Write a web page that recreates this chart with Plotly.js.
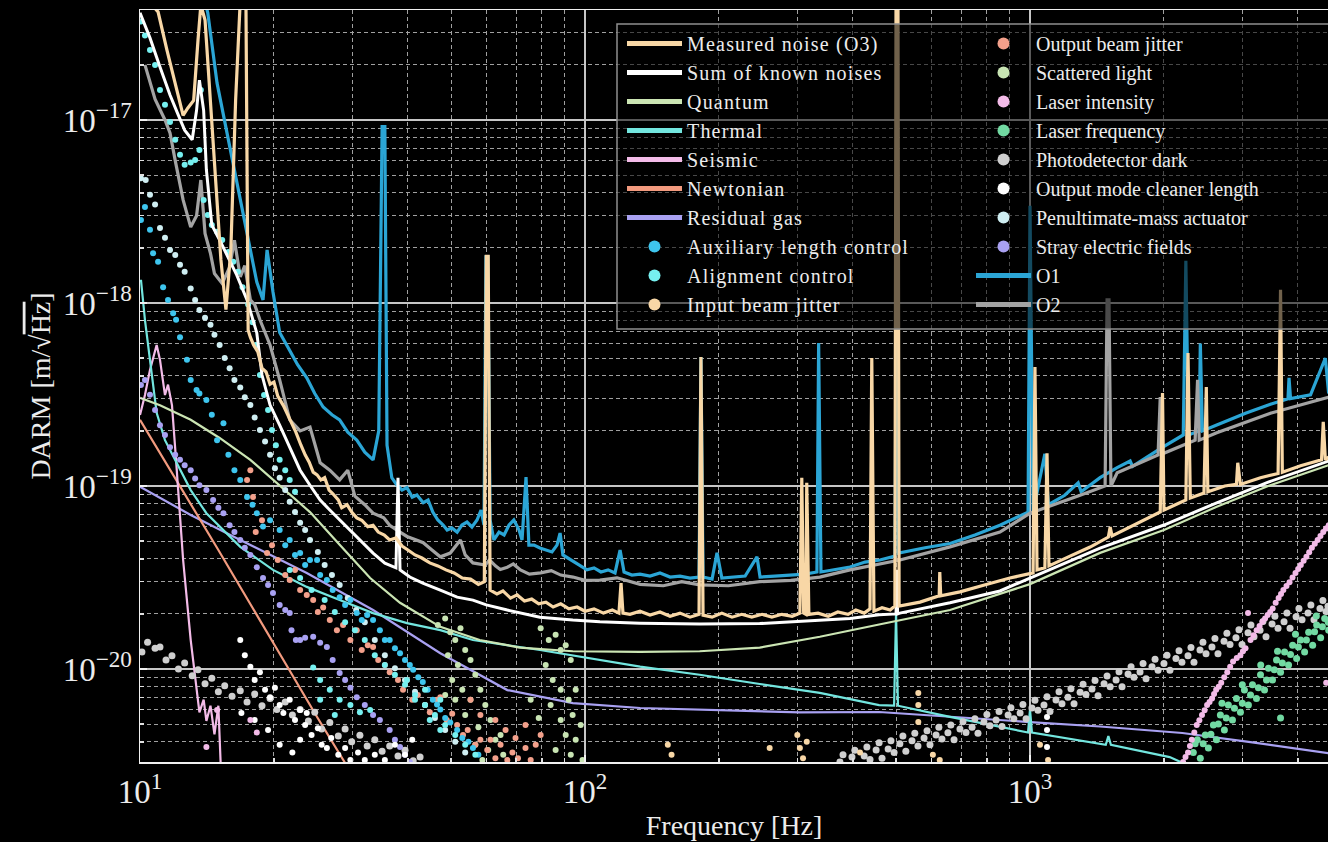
<!DOCTYPE html>
<html>
<head>
<meta charset="utf-8">
<script src="https://cdn.plot.ly/plotly-3.0.1.min.js"></script>
<style>
  html, body { margin: 0; padding: 0; background: #000; }
  #chart { width: 1328px; height: 842px; }
  .legendtext { letter-spacing: 1.2px; }
</style>
</head>
<body>
<div id="chart"></div>
<script>
// ---------------- data (frequency in Hz, amplitude in m/sqrt(Hz)) ----------------
const o3Freq = [10.42,10.98,11.5,12.0,12.5,12.8,13.2,13.5,13.7,14.0,14.4,14.8,15.2,15.6,16.0,16.4,16.8,17.3,17.5,17.7,18.0,18.4,18.8,19.2,19.6,20.0,20.4,21.0,21.4,22.0,22.4,23.0,23.5,24.0,24.5,25.0,25.5,26.0,26.6,27.1,27.9,28.4,29.2,29.9,30.7,31.5,32.5,33.4,34.3,35.4,36.4,37.6,38.8,40.0,41.5,43.0,44.8,46.7,48.7,50.8,53.0,55.3,57.6,59.4,60.0,60.6,
  61.2,63.4,65.4,68.0,70.4,73.1,75.9,78.7,81.7,84.8,88.2,92.0,96.0,100,104.8,110,115.2,119.2,120.5,121.7,126.2,132.9,140,147.4,155.3,163.5,172.2,180.4,182.2,184.2,193,203,214,225,237,250,263,277,292,304,307,310,313.5,315,318.5,334,352,370,390,406,424,437,441,446,465,485,497,500,505,508,
  566,625,627,630,696,790,901,1016,1026,1037,1080,1092,1103,1230,1365,1500,1514,1529,1769,1962,1985,2000,2240,2265,2292,2460,2490,2510,2740,2910,2930,2970,3296,3610,3656,3690,4056,4520,4560,4610,4690];
const o3Amp = [4.5e-17,3.9e-17,2.4e-17,1.55e-17,1.06e-17,1.16e-17,1.28e-17,2.73e-17,4.25e-17,3.52e-17,1.28e-17,4.7e-18,1.72e-18,9.2e-19,1.95e-18,1.28e-17,4.5e-17,4.5e-17,7.1e-19,6.5e-19,5.9e-19,5.4e-19,4.4e-19,4.2e-19,3.6e-19,3.7e-19,3.1e-19,2.75e-19,2.5e-19,2.15e-19,1.97e-19,1.67e-19,1.48e-19,1.35e-19,1.19e-19,1.15e-19,1.08e-19,1.11e-19,9.5e-20,9.1e-20,8.4e-20,7.6e-20,7.9e-20,7.2e-20,6.7e-20,6.5e-20,6.0e-20,6.1e-20,5.6e-20,5.4e-20,5.07e-20,5.2e-20,4.7e-20,4.47e-20,4.2e-20,4.04e-20,3.8e-20,3.66e-20,3.48e-20,3.35e-20,3.14e-20,3.1e-20,2.9e-20,3.0e-20,1.8e-18,1.8e-18,
  2.70e-20,2.57e-20,2.67e-20,2.44e-20,2.54e-20,2.35e-20,2.41e-20,2.27e-20,2.32e-20,2.18e-20,2.27e-20,2.13e-20,2.18e-20,2.07e-20,2.13e-20,2.02e-20,2.1e-20,2.02e-20,2.95e-20,2.02e-20,1.99e-20,2.07e-20,1.97e-20,2.05e-20,1.94e-20,2.02e-20,1.92e-20,1.99e-20,5.07e-19,1.97e-20,1.92e-20,2.02e-20,1.92e-20,1.99e-20,1.92e-20,1.99e-20,1.92e-20,1.99e-20,1.94e-20,2.02e-20,1.11e-19,2.02e-20,1.99e-20,1.04e-19,1.99e-20,2.02e-20,1.94e-20,2.05e-20,1.99e-20,2.1e-20,2.02e-20,2.13e-20,5.0e-19,2.07e-20,2.16e-20,2.1e-20,2.21e-20,5.1e-17,5.1e-17,2.21e-20,
  2.32e-20,2.51e-20,3.39e-20,2.51e-20,2.64e-20,2.88e-20,3.14e-20,3.35e-20,4.47e-19,3.48e-20,3.57e-20,1.51e-19,3.66e-20,4.14e-20,4.64e-20,5.26e-20,5.97e-20,5.33e-20,6.38e-20,7.21e-20,3.22e-19,7.39e-20,8.38e-20,5.33e-19,8.6e-20,9.15e-20,3.47e-19,9.3e-20,1.0e-19,1.02e-19,1.34e-19,1.02e-19,1.11e-19,1.17e-19,1.18e-18,1.19e-19,1.29e-19,1.39e-19,2.24e-19,1.39e-19,1.44e-19];

const sumFreq = [10.0,10.53,11.09,11.68,12.2,12.6,13.1,13.4,13.6,13.9,14.1,14.5,15.1,15.8,16.5,17.4,18.3,18.8,19.6,20.6,21.7,22.9,24.1,25.4,26.7,28.1,29.7,31.2,33.4,35.5,37.6,38.0,38.4,40.4,43.2,47.3,51.6,56.0,60.0,66.9,79.2,93.9,108,133,181,247,337,394,458,500,502,504,510,661,856,1000,1437,2000,2620,3430,4690];
const sumAmp = [3.85e-17,2.81e-17,1.95e-17,1.37e-17,1.06e-17,8.8e-18,7.8e-18,1.13e-17,1.65e-17,1.13e-17,5.33e-18,2.67e-18,2.21e-18,1.76e-18,1.42e-18,1.04e-18,6.86e-19,4.04e-19,2.77e-19,2.15e-19,1.63e-19,1.22e-19,1.01e-19,8.38e-20,7.39e-20,6.52e-20,5.75e-20,5.07e-20,4.3e-20,3.79e-20,3.57e-20,1.11e-19,3.48e-20,3.18e-20,2.95e-20,2.7e-20,2.47e-20,2.38e-20,2.24e-20,2.1e-20,1.92e-20,1.85e-20,1.81e-20,1.78e-20,1.76e-20,1.77e-20,1.85e-20,1.89e-20,1.98e-20,2.0e-20,3.48e-20,2.0e-20,2.02e-20,2.3e-20,2.67e-20,3.14e-20,4.58e-20,6.12e-20,8.07e-20,1.05e-19,1.37e-19];

const quantumFreq = [10,11.09,13.0,15.1,17.7,20.6,24.1,28.1,32.9,38.4,47.3,58.0,71.3,93.9,133,181,247,337,394,458,661,1000,1437,2000,2620,3430,4690];
const quantumAmp = [3.03e-19,2.76e-19,2.30e-19,1.83e-19,1.39e-19,1.01e-19,7.2e-20,4.77e-20,3.14e-20,2.30e-20,1.70e-20,1.44e-20,1.31e-20,1.25e-20,1.24e-20,1.25e-20,1.31e-20,1.5e-20,1.63e-20,1.75e-20,2.1e-20,2.91e-20,4.31e-20,5.75e-20,7.67e-20,1.0e-19,1.30e-19];

const thermalFreq = [10.05,10.26,10.53,10.9,11.38,11.9,13.0,14.1,16.8,19.9,23.7,28.1,33.4,39.8,47.3,56.0,79.2,133,181,247,337,458,495,500,505,661,990,1000,1010,1480,1500,1520,2060,2400];
const thermalAmp = [1.34e-18,8.07e-19,4.89e-19,2.51e-19,1.78e-19,1.44e-19,9.5e-20,7.1e-20,4.65e-20,3.48e-20,2.81e-20,2.38e-20,2.02e-20,1.78e-20,1.63e-20,1.44e-20,1.27e-20,1.03e-20,9.3e-21,8.28e-21,7.4e-21,6.35e-21,6.3e-21,2.02e-20,6.3e-21,5.47e-21,4.5e-21,6.0e-21,4.5e-21,3.85e-21,4.3e-21,3.85e-21,3.3e-21,2.8e-21];

const seismicFreq = [10,10.26,10.53,10.9,11.09,11.38,11.56,11.8,12.05,12.5,13.0,13.4,13.6,13.9,14.1,14.4,14.7,15.0,15.2];
const seismicAmp = [2.44e-19,3.14e-19,4.31e-19,5.89e-19,4.89e-19,3.14e-19,3.58e-19,2.76e-19,1.39e-19,3.94e-20,1.44e-20,7.67e-21,5.8e-21,6.8e-21,5.2e-21,6.3e-21,4.4e-21,6.3e-21,2.8e-21];

const newtonianFreq = [10,12,15,20,25,30];
const newtonianAmp = [2.30e-19,1.11e-19,4.47e-20,1.37e-20,5.47e-21,2.64e-21];

const gasFreq = [10,13.0,16.8,23.7,33.4,47.3,66.9,93.9,133,201,304,458,661,1000,1437,2200,3100,4690];
const gasAmp = [9.9e-20,6.95e-20,5.07e-20,3.35e-20,2.10e-20,1.22e-20,7.67e-21,6.51e-21,6.12e-21,5.95e-21,5.8e-21,5.82e-21,5.47e-21,5.13e-21,4.85e-21,4.47e-21,4.0e-21,3.47e-21];

const auxFreq = [10.05,10.26,10.53,10.7,10.98,11.27,11.56,11.87,12.05,12.3,12.75,13.0,13.4,13.6,14.1,14.5,14.9,15.4,15.8,16.3,16.8,17.4,17.9,18.3,18.9,19.6,20.6,21.2,21.7,22.3,22.9,23.5,24.1,25.0,25.4,26.3,27.1,28.1,28.9,29.7,30.7,31.5,32.4,33.4,34.6,35.5,36.4,37.4,38.4,39.4,40.4,41.1,42.2,43.2,44.3,45.5,46.5,47.3,48.5,49.8,51.6,53.0,54.7,56.0,57.6];
const auxAmp = [2.84e-18,3.35e-18,2.51e-18,1.87e-18,1.68e-18,1.22e-18,1.04e-18,8.8e-19,8.1e-19,6.5e-19,4.9e-19,3.8e-19,3.35e-19,3.2e-19,2.95e-19,2.45e-19,1.78e-19,2.2e-19,1.48e-19,1.22e-19,1.08e-19,8.7e-20,7.9e-20,7.1e-20,6.0e-20,6.5e-20,5.75e-20,4.75e-20,5.07e-20,4.2e-20,4.3e-20,3.7e-20,3.94e-20,3.94e-20,3.26e-20,3.06e-20,2.7e-20,2.47e-20,2.24e-20,2.38e-20,2.02e-20,1.85e-20,1.97e-20,1.85e-20,1.63e-20,1.44e-20,1.44e-20,1.3e-20,1.22e-20,1.12e-20,1.05e-20,9.9e-21,9.0e-21,8.5e-21,7.7e-21,6.8e-21,6.4e-21,6.0e-21,5.4e-21,5.1e-21,4.64e-21,4.2e-21,4.0e-21,3.7e-21,3.4e-21];

const alignFreq = [10.05,10.26,10.53,10.81,11.09,11.38,11.68,12.0,12.3,12.6,13.0,13.3,13.6,13.7,13.9,14.2,14.5,14.9,15.3,15.8,16.2,16.6,17.0,17.5,17.9,18.2,18.6,19.0,19.4,19.8,20.2,20.6,21.2,21.7,22.3,21.7,22.9,24.3,26.0,27.4,28.9,30.4,32.0,33.7,35.5,37.4,39.4,41.5,43.7,46.0,48.5,51.1,53.8,56.7,24.5,25.4,26.7,28.1,29.7,31.2,32.9,25.4,27.4,39.8,41.5,43.7,44.8,47.3,47.3];
const alignAmp = [3.45e-17,2.9e-17,2.41e-17,2.0e-17,1.46e-17,1.21e-17,9.75e-18,7.8e-18,6.45e-18,5.7e-18,5.85e-18,6.05e-18,6.86e-18,1.46e-17,3.66e-18,3.03e-18,2.67e-18,2.45e-18,2.21e-18,1.9e-18,1.68e-18,1.48e-18,1.22e-18,9.8e-19,7.85e-19,5.9e-19,4.04e-19,3.14e-19,2.6e-19,2.02e-19,1.67e-19,1.39e-19,1.22e-19,1.08e-19,9.3e-20,3.48e-20,3.14e-20,2.7e-20,2.38e-20,2.05e-20,1.8e-20,1.63e-20,1.44e-20,1.19e-20,1.05e-20,9.3e-21,8.2e-21,7.2e-21,6.35e-21,5.6e-21,4.94e-21,4.36e-21,3.85e-21,3.4e-21,1.02e-20,8.7e-21,7.7e-21,6.8e-21,6.35e-21,5.8e-21,5.97e-21,6.8e-21,5.6e-21,8.7e-21,6.8e-21,7.7e-21,5.27e-21,6.8e-21,4.64e-21];

const inBeamFreq = [153.5,156.5,260,300,304,309,315,415,561,561,561,605,627,1053,1098];
const inBeamAmp = [3.85e-21,3.4e-21,3.7e-21,4.36e-21,3.7e-21,3.25e-21,4.0e-21,3.5e-21,7.4e-21,6.35e-21,5.13e-21,3.4e-21,3.18e-21,3.85e-21,3.18e-21];

const outBeamFreq = [17.4,17.7,17.95,18.2,18.8,19.3,19.8,20.4,21.2,21.7,22.3,22.9,23.7,24.5,25.1,25.8,26.7,27.7,28.6,29.7,30.7,31.5,32.5,33.4,34.3,35.5,36.4,38.0,39.0,39.8,40.9,42.1,43.7,44.8,46.5,47.3,48.9,50.3,51.6,53.2,54.5,56.7,58.2,60.3,61.3,62.9,64.6,66.9,68.7,70.7,73.5,75.5,55.3,58.2,62.9,66.3,69.8,73.5,77.5,79.5];
const outBeamAmp = [1.08e-19,1.22e-19,8.7e-20,5.6e-20,6.5e-20,4.3e-20,4.75e-20,3.94e-20,3.26e-20,3.06e-20,3.48e-20,2.7e-20,2.54e-20,2.38e-20,2.05e-20,2.17e-20,1.85e-20,1.63e-20,1.74e-20,1.44e-20,1.63e-20,1.27e-20,1.35e-20,1.32e-20,1.12e-20,1.05e-20,9.6e-21,8.7e-21,7.7e-21,8.7e-21,6.8e-21,7.2e-21,6.35e-21,5.8e-21,6.8e-21,7.0e-21,5.27e-21,5.7e-21,4.94e-21,4.36e-21,4.64e-21,3.85e-21,4.1e-21,3.61e-21,4.1e-21,3.25e-21,3.85e-21,3.18e-21,3.5e-21,3.25e-21,3.7e-21,3.18e-21,6.8e-21,5.6e-21,5.27e-21,4.64e-21,4.2e-21,4.94e-21,3.85e-21,4.36e-21];

const scatterFreq = [46.7,48.5,49.8,51.1,52.5,53.8,49.2,51.8,55.3,56.7,50.3,53.0,55.3,58.2,59.7,61.3,57.6,62.9,60.6,64.6,65.5,53.8,51.1,48.5,56.7,58.8,79.5,82.9,85.9,88.2,90.5,92.9,81.6,84.6,88.2,91.9,95.3,93.8,88.2,83.7,90.5,95.3,97.8,92.9,85.9,98.7,75.5,78.7];
const scatterAmp = [1.74e-20,1.89e-20,1.59e-20,1.44e-20,1.67e-20,1.27e-20,1.19e-20,1.05e-20,1.12e-20,9.3e-21,8.7e-21,7.7e-21,6.8e-21,7.7e-21,6.35e-21,5.27e-21,4.8e-21,4.1e-21,3.61e-21,4.36e-21,3.4e-21,5.6e-21,6.8e-21,7.2e-21,3.85e-21,3.18e-21,1.67e-20,1.44e-20,1.54e-20,1.27e-20,1.35e-20,1.12e-20,1.05e-20,8.7e-21,7.7e-21,6.8e-21,7.7e-21,5.6e-21,5.27e-21,6.35e-21,4.36e-21,4.1e-21,4.94e-21,3.4e-21,3.61e-21,3.18e-21,6.8e-21,5.4e-21];

const intensityFreq = [2208,2265,2310,2370,2435,2500,2565,2620,2690,2775,2860,2970,3050,3130,3230,3330,3420,3510,3620,3710,3830,3950,4060,4180,4300,4430,4560,4690,3090,4630,14.9,14.1,17.7,18.3,
  2236,2288,2340,2402,2468,2532,2592,2655,2732,2817,2915,3010,3180,3280,3375,3465,3565,3665,3770,3890,4005,4120,4240,4365,4495,4625];
const intensityAmp = [3.1e-21,3.5e-21,4.1e-21,4.94e-21,5.6e-21,6.35e-21,6.9e-21,7.7e-21,8.4e-21,9.6e-21,1.1e-20,1.19e-20,1.3e-20,1.44e-20,1.63e-20,1.81e-20,1.97e-20,2.14e-20,2.44e-20,2.7e-20,2.98e-20,3.35e-20,3.7e-20,4.1e-20,4.6e-20,5.07e-20,5.6e-20,6.1e-20,2.02e-20,8.4e-21,5.97e-21,3.75e-21,5.27e-21,4.5e-21,
  3.3e-21,3.8e-21,4.5e-21,5.25e-21,5.95e-21,6.6e-21,7.3e-21,8.0e-21,9.0e-21,1.03e-20,1.15e-20,1.25e-20,1.53e-20,1.72e-20,1.89e-20,2.05e-20,2.3e-20,2.57e-20,2.84e-20,3.16e-20,3.52e-20,3.9e-20,4.35e-20,4.83e-20,5.33e-20,5.85e-20];

const frequencyFreq = [2328,2377,2414,2477,2517,2583,2624,2678,2734,2791,2851,2910,2971,3033,3096,3162,3228,3296,3365,3435,3507,3581,3656,3733,3811,3892,3973,4056,4141,4228,4317,4407,4499,4594,4691,3656,
  2350,2450,2550,2650,2760,2880,3000,3130,3260,3400,3540,3690,3850,4010,4180,4360,4540,4680,2700,3000,3300,3600,3950,4400];
const frequencyAmp = [3.5e-21,4.1e-21,3.25e-21,4.36e-21,3.7e-21,4.94e-21,4.1e-21,5.6e-21,4.64e-21,6.35e-21,5.27e-21,6.9e-21,5.8e-21,7.68e-21,6.35e-21,8.2e-21,6.9e-21,9.3e-21,7.68e-21,1.01e-20,8.7e-21,1.12e-20,9.6e-21,1.24e-20,1.05e-20,1.35e-20,1.14e-20,1.44e-20,1.24e-20,1.59e-20,1.35e-20,1.74e-20,1.48e-20,1.89e-20,1.63e-20,5.4e-21,
  3.9e-21,3.9e-21,4.4e-21,5.0e-21,5.4e-21,6.1e-21,6.5e-21,7.2e-21,7.9e-21,8.7e-21,9.9e-21,1.08e-20,1.2e-20,1.32e-20,1.44e-20,1.6e-20,1.7e-20,1.8e-20,6.5e-21,8.2e-21,1.05e-20,1.25e-20,1.55e-20,1.95e-20];

const darkLowFreq = [10.1,10.4,10.81,11.09,11.44,11.8,12.2,12.6,13.1,13.5,14.0,14.5,15.0,15.5,16.1,16.8,17.4,18.1,18.8,19.6,20.3,21.2,22.0,22.9,23.9,24.7,25.6,26.7,27.9,28.9,29.9,31.2,32.4,33.7,35.0,36.4,38.0,39.4,41.1,42.6];
const darkLowAmp = [1.24e-20,1.40e-20,1.30e-20,1.32e-20,1.12e-20,1.18e-20,1.0e-20,1.08e-20,9.2e-21,9.9e-21,8.3e-21,8.9e-21,7.5e-21,8.1e-21,7.1e-21,7.6e-21,6.6e-21,7.3e-21,6.3e-21,6.9e-21,6.0e-21,6.6e-21,5.6e-21,6.0e-21,5.2e-21,5.8e-21,4.7e-21,5.1e-21,4.3e-21,4.7e-21,4.0e-21,4.35e-21,3.8e-21,4.1e-21,3.55e-21,3.8e-21,3.35e-21,3.6e-21,3.15e-21,3.3e-21];
const darkHighFreqA = [374,398,424,451,480,510,543,578,615,654,696,741,788,839,893,950,1010,1075,1144,1217,1296,1378,1467,1561,1661,1767,1880,2000,2128,2265,2410,2564,2729,2903,3090,3288,3499,3723,3962,4215,4484,4674];
const darkHighAmpA = [3.1e-21,3.3e-21,3.35e-21,3.61e-21,3.65e-21,3.9e-21,4.05e-21,4.2e-21,4.36e-21,4.48e-21,4.7e-21,4.8e-21,5.13e-21,5.27e-21,5.6e-21,5.75e-21,6.12e-21,6.35e-21,6.77e-21,7.0e-21,7.47e-21,7.78e-21,8.3e-21,8.71e-21,9.4e-21,9.63e-21,1.03e-20,1.07e-20,1.14e-20,1.18e-20,1.27e-20,1.32e-20,1.42e-20,1.48e-20,1.58e-20,1.63e-20,1.76e-20,1.81e-20,1.93e-20,2.02e-20,2.14e-20,2.2e-20];
const darkHighFreqB = [386,411,437,465,495,526,560,596,634,675,718,764,813,865,920,980,1042,1109,1180,1256,1336,1422,1514,1610,1713,1823,1940,2063,2195,2336,2486,2645,2815,2995,3187,3391,3609,3840,4086,4347,4626];
const darkHighAmpB = [2.8e-21,2.95e-21,3.2e-21,3.25e-21,3.5e-21,3.55e-21,3.8e-21,3.85e-21,4.15e-21,4.1e-21,4.5e-21,4.45e-21,4.9e-21,4.85e-21,5.35e-21,5.35e-21,5.95e-21,5.85e-21,6.45e-21,6.45e-21,7.25e-21,7.15e-21,8.0e-21,8.0e-21,9.0e-21,8.85e-21,9.85e-21,9.85e-21,1.09e-20,1.09e-20,1.21e-20,1.21e-20,1.36e-20,1.36e-20,1.5e-20,1.5e-20,1.67e-20,1.67e-20,1.86e-20,1.86e-20,2.06e-20];
const darkHighFreqC = [380,404,430,458,487,518,551,587,624,664,707,752,800,852,906,964,1026,1092,1162,1236,1316,1400,1490,1585,1687,1795,1910,2032,2162,2300,2447,2604,2770,2948,3137,3338,3551,3779,4021,4278,4552];
const darkHighAmpC = [3.4e-21,3.6e-21,3.75e-21,3.95e-21,4.05e-21,4.3e-21,4.45e-21,4.6e-21,4.8e-21,4.95e-21,5.15e-21,5.35e-21,5.65e-21,5.85e-21,6.15e-21,6.4e-21,6.75e-21,7.05e-21,7.5e-21,7.8e-21,8.25e-21,8.65e-21,9.15e-21,9.65e-21,1.03e-20,1.07e-20,1.13e-20,1.19e-20,1.26e-20,1.31e-20,1.4e-20,1.47e-20,1.57e-20,1.64e-20,1.74e-20,1.82e-20,1.94e-20,2.02e-20,2.14e-20,2.24e-20,2.37e-20];

const omcFreq = [16.8,17.2,17.7,18.1,18.6,19.1,19.6,20.1,20.6,21.0,21.7,22.3,22.9,23.5,23.7,24.3,25.1,25.6,26.3,26.9,27.9,28.9,29.7,30.9,32.0,16.9,18.1,19.4,20.6,22.0,22.9,33.7,35.5,37.4,39.4,40.9,1092,1092,1092];
const omcAmp = [1.44e-20,1.19e-20,1.03e-20,8.7e-21,9.6e-21,7.7e-21,7.0e-21,7.9e-21,6.35e-21,5.75e-21,6.8e-21,5.27e-21,5.97e-21,4.94e-21,5.75e-21,4.36e-21,4.75e-21,3.85e-21,3.7e-21,4.2e-21,3.4e-21,3.7e-21,3.18e-21,3.5e-21,3.18e-21,5.75e-21,5.27e-21,4.64e-21,3.85e-21,3.5e-21,4.1e-21,3.4e-21,3.18e-21,3.85e-21,3.4e-21,4.1e-21,5.47e-21,4.64e-21,3.75e-21];

const pumFreq = [10.05,10.3,10.53,10.81,11.09,11.38,11.68,12.0,12.3,12.6,13.0,13.3,13.6,14.0,14.4,14.7,15.1,15.5,15.9,16.3,16.8,17.2,17.7,18.1,18.6,19.1,19.6,20.1,20.6,21.2,21.7,22.3,22.9,23.5,24.1,25.1,26.0,27.0,28.1,29.3,30.6,32.0,33.7,35.5,37.4,39.4,41.5,43.7,46.0,48.5,51.1,53.8];
const pumAmp = [4.8e-18,4.7e-18,3.9e-18,3.45e-18,2.57e-18,2.27e-18,1.95e-18,1.83e-18,1.62e-18,1.48e-18,1.2e-18,1.04e-18,9.16e-19,8.3e-19,7.6e-19,6.7e-19,5.9e-19,5.0e-19,4.4e-19,3.8e-19,3.45e-19,3.05e-19,2.77e-19,2.37e-19,2.02e-19,1.75e-19,1.48e-19,1.25e-19,1.11e-19,9.5e-20,8.2e-20,7.2e-20,6.3e-20,5.75e-20,5.07e-20,4.36e-20,3.7e-20,3.26e-20,2.88e-20,2.44e-20,2.1e-20,1.8e-20,1.44e-20,1.19e-20,1.01e-20,8.7e-21,7.5e-21,6.35e-21,5.4e-21,4.64e-21,4.0e-21,3.5e-21];

const strayFreq = [10.05,10.26,10.53,10.81,11.09,11.38,11.68,12.0,12.3,12.6,13.0,13.3,13.6,14.1,14.6,15.0,15.4,15.9,16.3,16.8,17.2,17.7,18.3,18.9,19.4,19.9,20.6,21.2,21.7,21.9,22.4,22.9,23.5,24.5,25.4,26.3,27.1,28.1,28.9,29.7,30.7,32.0,33.4,34.6,36.4,37.4,38.4,39.4,40.4];
const strayAmp = [3.56e-19,3.8e-19,3.15e-19,2.6e-19,2.15e-19,1.9e-19,1.63e-19,1.48e-19,1.39e-19,1.3e-19,1.22e-19,1.1e-19,1.01e-19,9.5e-20,8.38e-20,7.6e-20,7.1e-20,6.1e-20,5.6e-20,5.07e-20,4.6e-20,4.2e-20,3.6e-20,3.14e-20,2.88e-20,2.6e-20,2.24e-20,2.1e-20,2.02e-20,1.63e-20,1.44e-20,1.44e-20,1.48e-20,1.5e-20,1.39e-20,1.32e-20,1.12e-20,9.5e-21,8.7e-21,7.9e-21,7.0e-21,6.35e-21,5.6e-21,5.27e-21,4.64e-21,4.1e-21,3.75e-21,3.4e-21,3.1e-21];

const o1Freq = [13.8,14.2,14.9,15.7,16.5,17.4,18.3,18.9,19.3,19.9,20.6,21.7,22.6,23.7,24.7,25.8,27.0,28.1,29.3,30.7,32.0,33.4,34.4,35.0,35.5,
  35.9,36.8,37.8,38.8,39.8,40.9,41.9,43.3,44.4,45.5,46.7,48.0,49.0,50.2,51.6,52.9,54.3,55.7,57.2,58.4,59.3,59.9,60.5,61.2,62.4,64.1,65.8,67.5,69.2,71.1,72.2,73.7,74.8,76.8,79.2,81.7,84.3,86.5,87.9,89.2,91.6,94.5,97.4,101,104.8,108.6,112.7,116.8,119.9,122.4,127.5,132.9,140,147.4,155.3,163.5,172.2,180.4,182.2,184.2,193,198,203,217,229,243.5,247.4,267,289,312,332,335,339,365,394,426,460,497.5,502,507,
  581,661,752,856,990,1000,1016,1080,1100,1197,1283,1303,1437,1570,1679,1700,1962,2210,2240,2270,2400,2414,2440,2620,3050,3470,3800,3820,3850,4270,4610,4690];
const o1Amp = [5.1e-17,3.85e-17,1.59e-17,8.5e-18,4.5e-18,2.4e-18,1.3e-18,1.04e-18,1.95e-18,1.15e-18,6.9e-19,5.5e-19,4.6e-19,3.9e-19,3.2e-19,2.7e-19,2.45e-19,2.3e-19,1.97e-19,1.78e-19,1.53e-19,1.39e-19,2.0e-19,9.2e-18,9.2e-18,
  1.67e-19,1.11e-19,1.01e-19,9.51e-20,9.8e-20,8.7e-20,8.93e-20,8.1e-20,8.38e-20,7.21e-20,6.52e-20,6.12e-20,5.75e-20,5.9e-20,5.6e-20,6.12e-20,6.35e-20,5.97e-20,6.52e-20,7.39e-20,6.12e-20,1.79e-18,1.79e-18,6.52e-20,5.07e-20,5.6e-20,5.4e-20,6.12e-20,6.52e-20,5.75e-20,5.07e-20,1.12e-19,4.75e-20,4.75e-20,4.58e-20,4.47e-20,4.36e-20,4.75e-20,5.53e-20,4.2e-20,4.04e-20,3.84e-20,3.66e-20,3.48e-20,3.57e-20,3.39e-20,3.48e-20,3.35e-20,4.47e-20,3.39e-20,3.26e-20,3.3e-20,3.22e-20,3.35e-20,3.18e-20,3.22e-20,3.14e-20,3.18e-20,5.07e-19,3.18e-20,3.1e-20,4.31e-20,3.14e-20,3.18e-20,3.22e-20,4.1e-20,3.18e-20,3.22e-20,3.26e-20,3.3e-20,3.39e-20,6.04e-19,3.39e-20,3.48e-20,3.61e-20,3.84e-20,3.94e-20,4.14e-20,6.9e-18,4.3e-20,
  4.6e-20,4.85e-20,5.4e-20,6.1e-20,7.2e-20,3.4e-18,7.2e-20,1.5e-19,7.9e-20,8.9e-20,1.04e-19,9.3e-20,1.11e-19,1.26e-19,1.37e-19,1.28e-19,1.6e-19,1.9e-19,1.7e-18,1.9e-19,2.0e-19,6.0e-19,2.0e-19,2.15e-19,2.5e-19,2.8e-19,3.0e-19,3.9e-19,3.0e-19,3.15e-19,5.0e-19,3.2e-19];

const o2Freq = [10.26,10.81,11.38,11.68,12.0,12.5,13.0,13.4,13.7,14.0,14.4,14.7,15.3,15.9,16.3,16.8,17.2,17.7,18.1,18.6,19.6,20.6,21.7,22.9,24.1,25.4,26.7,28.1,29.3,30.4,32.0,33.4,35.3,36.4,38.4,39.8,41.5,43.3,45.3,47.3,49.8,52.5,53.8,56.0,59.7,61.0,62.9,64.5,66.9,69.0,71.6,75.0,79.5,84.0,88.2,94,100,108,118,133,150,165,181,210,247,290,337,394,510,661,856,1000,1296,1475,1490,1505,1520,1570,1769,1940,1962,1985,2350,2380,2400,2620,3470,4690];
const o2Amp = [2.0e-17,1.3e-17,1.0e-17,8.5e-18,6.0e-18,3.66e-18,2.6e-18,3.0e-18,4.7e-18,2.4e-18,1.87e-18,1.45e-18,1.28e-18,1.57e-18,2.2e-18,1.39e-18,1.6e-18,1.04e-18,9.8e-19,8.1e-19,5.9e-19,3.8e-19,2.3e-19,2.0e-19,2.1e-19,1.34e-19,1.22e-19,1.08e-19,1.22e-19,8.8e-20,7.9e-20,7.1e-20,6.7e-20,6.1e-20,5.6e-20,5.3e-20,5.1e-20,4.9e-20,4.47e-20,4.1e-20,4.3e-20,5.07e-20,4.2e-20,3.8e-20,3.7e-20,3.95e-20,3.66e-20,3.5e-20,3.6e-20,3.75e-20,3.48e-20,3.3e-20,3.35e-20,3.45e-20,3.26e-20,3.18e-20,3.05e-20,3.06e-20,3.15e-20,2.9e-20,2.85e-20,3.0e-20,2.88e-20,2.85e-20,3.0e-20,3.05e-20,3.18e-20,3.48e-20,3.94e-20,4.65e-20,5.6e-20,7.1e-20,8.9e-20,1.0e-19,1.04e-18,1.04e-18,1.0e-19,1.18e-19,1.34e-19,1.48e-19,3.06e-19,1.5e-19,1.78e-19,3.8e-19,1.78e-19,1.95e-19,2.5e-19,3.06e-19];

const xTickVals = [10, 100, 1000];
const xTickText = ['10<sup>1</sup>', '10<sup>2</sup>', '10<sup>3</sup>'];
const yTickVals = [1e-20, 1e-19, 1e-18, 1e-17];
const yTickText = ['10<sup>\u221220</sup>', '10<sup>\u221219</sup>', '10<sup>\u221218</sup>', '10<sup>\u221217</sup>'];

// ---------------- traces ----------------
function lineTrace(name, x, y, color, width, legend, rank) {
  return { type: 'scatter', mode: 'lines', name, x, y, legend, legendrank: rank,
           line: { color, width }, hoverinfo: 'skip' };
}
function dotTrace(name, x, y, color, legend, rank, size) {
  return { type: 'scatter', mode: 'markers', name, x, y, legend, legendrank: rank,
           marker: { color, size: size || 6, line: { width: 0 } }, hoverinfo: 'skip' };
}

const C = {
  o3: '#f8d7a6', sum: '#ffffff', quantum: '#cbe5b3', thermal: '#73e6df', seismic: '#f3bbe8',
  newton: '#f29a7e', gas: '#a9a1f2', aux: '#3ec5ee', align: '#76f0f0', inBeam: '#f8d7a6',
  outBeam: '#f3a08b', scatter: '#c8e4b3', intensity: '#f3bbe8', frequency: '#72d9a2',
  dark: '#cfcfcf', omc: '#ffffff', pum: '#cfeef2', stray: '#a9a1f2', o1: '#2ba5d5', o2: '#a3a3a3'
};

const data = [
  lineTrace('O1', o1Freq, o1Amp, C.o1, 3.2, 'legend2', 9),
  lineTrace('O2', o2Freq, o2Amp, C.o2, 3.2, 'legend2', 10),
  lineTrace('Residual gas', gasFreq, gasAmp, C.gas, 2.2, 'legend', 7),
  lineTrace('Newtonian', newtonianFreq, newtonianAmp, C.newton, 2.2, 'legend', 6),
  lineTrace('Seismic', seismicFreq, seismicAmp, C.seismic, 2.2, 'legend', 5),
  lineTrace('Thermal', thermalFreq, thermalAmp, C.thermal, 2.2, 'legend', 4),
  lineTrace('Quantum', quantumFreq, quantumAmp, C.quantum, 2.2, 'legend', 3),
  dotTrace('Photodetector dark', darkLowFreq.concat(darkHighFreqA, darkHighFreqB, darkHighFreqC),
           darkLowAmp.concat(darkHighAmpA, darkHighAmpB, darkHighAmpC), C.dark, 'legend2', 5, 7),
  dotTrace('Stray electric fields', strayFreq, strayAmp, C.stray, 'legend2', 8),
  dotTrace('Output mode cleaner length', omcFreq, omcAmp, C.omc, 'legend2', 6),
  dotTrace('Scattered light', scatterFreq, scatterAmp, C.scatter, 'legend2', 2),
  dotTrace('Output beam jitter', outBeamFreq, outBeamAmp, C.outBeam, 'legend2', 1),
  dotTrace('Penultimate-mass actuator', pumFreq, pumAmp, C.pum, 'legend2', 7),
  dotTrace('Auxiliary length control', auxFreq, auxAmp, C.aux, 'legend', 8),
  dotTrace('Alignment control', alignFreq, alignAmp, C.align, 'legend', 9),
  dotTrace('Input beam jitter', inBeamFreq, inBeamAmp, C.inBeam, 'legend', 10),
  dotTrace('Laser frequency', frequencyFreq, frequencyAmp, C.frequency, 'legend2', 4, 7),
  dotTrace('Laser intensity', intensityFreq, intensityAmp, C.intensity, 'legend2', 3, 6),
  lineTrace('Sum of known noises', sumFreq, sumAmp, C.sum, 3, 'legend', 2),
  lineTrace('Measured noise (O3)', o3Freq, o3Amp, C.o3, 3.2, 'legend', 1)
];

// ---------------- layout ----------------
const FONT = 'Liberation Serif, Times New Roman, serif';
const plotL = 140, plotR = 1328, plotT = 10, plotB = 762;
const pw = plotR - plotL, ph = plotB - plotT;
const px = v => (v - plotL) / pw;
const py = v => (plotB - v) / ph;

const legendCommon = {
  xanchor: 'left', yanchor: 'top', bgcolor: 'rgba(0,0,0,0)', borderwidth: 0,
  font: { family: FONT, size: 20, color: '#ececec' }, itemwidth: 55,
  itemsizing: 'constant', traceorder: 'normal'
};

const axisCommon = {
  type: 'log', showline: true, linecolor: '#f0f0f0', linewidth: 1.5, mirror: true,
  ticks: 'inside', ticklen: 7, tickwidth: 1.5, tickcolor: '#f0f0f0',
  showgrid: true, gridcolor: '#c6c6c6', gridwidth: 1.4, zeroline: false,
  tickfont: { family: FONT, size: 33, color: '#ececec' },
  minor: { dtick: 'D1', showgrid: true, gridcolor: '#a0a0a0', griddash: '4px,3px', gridwidth: 1,
           ticks: 'inside', ticklen: 4, tickcolor: '#e0e0e0' },
  automargin: false, fixedrange: true
};

const layout = {
  width: 1328, height: 842,
  paper_bgcolor: '#000000', plot_bgcolor: '#000000',
  margin: { l: plotL, r: 1328 - plotR, t: plotT, b: 842 - plotB },
  font: { family: FONT, color: '#ececec' },
  showlegend: true,
  xaxis: Object.assign({}, axisCommon, {
    range: [1, 1 + pw / 445],
    tickmode: 'array', tickvals: xTickVals, ticktext: xTickText,
    title: { text: 'Frequency [Hz]', font: { family: FONT, size: 28, color: '#ececec' }, standoff: 6 }
  }),
  yaxis: Object.assign({}, axisCommon, {
    range: [-17 - (plotB - 120) / 183, -17 + (120 - plotT) / 183],
    tickmode: 'array', tickvals: yTickVals, ticktext: yTickText,
    title: { text: 'DARM [m/\u221A<span style="text-decoration:overline">Hz</span>]',
             font: { family: FONT, size: 28, color: '#ececec' }, standoff: 4 }
  }),
  legend: Object.assign({}, legendCommon, { x: px(622), y: py(24) }),
  legend2: Object.assign({}, legendCommon, { x: px(971), y: py(24) }),
  shapes: [{
    type: 'rect', xref: 'paper', yref: 'paper', layer: 'above',
    x0: px(617), x1: px(1340), y0: py(329), y1: py(24),
    line: { color: '#8f8f8f', width: 1.5 }, fillcolor: 'rgba(0,0,0,0.55)'
  }]
};

Plotly.newPlot('chart', data, layout, { staticPlot: true, displayModeBar: false });
</script>
</body>
</html>
